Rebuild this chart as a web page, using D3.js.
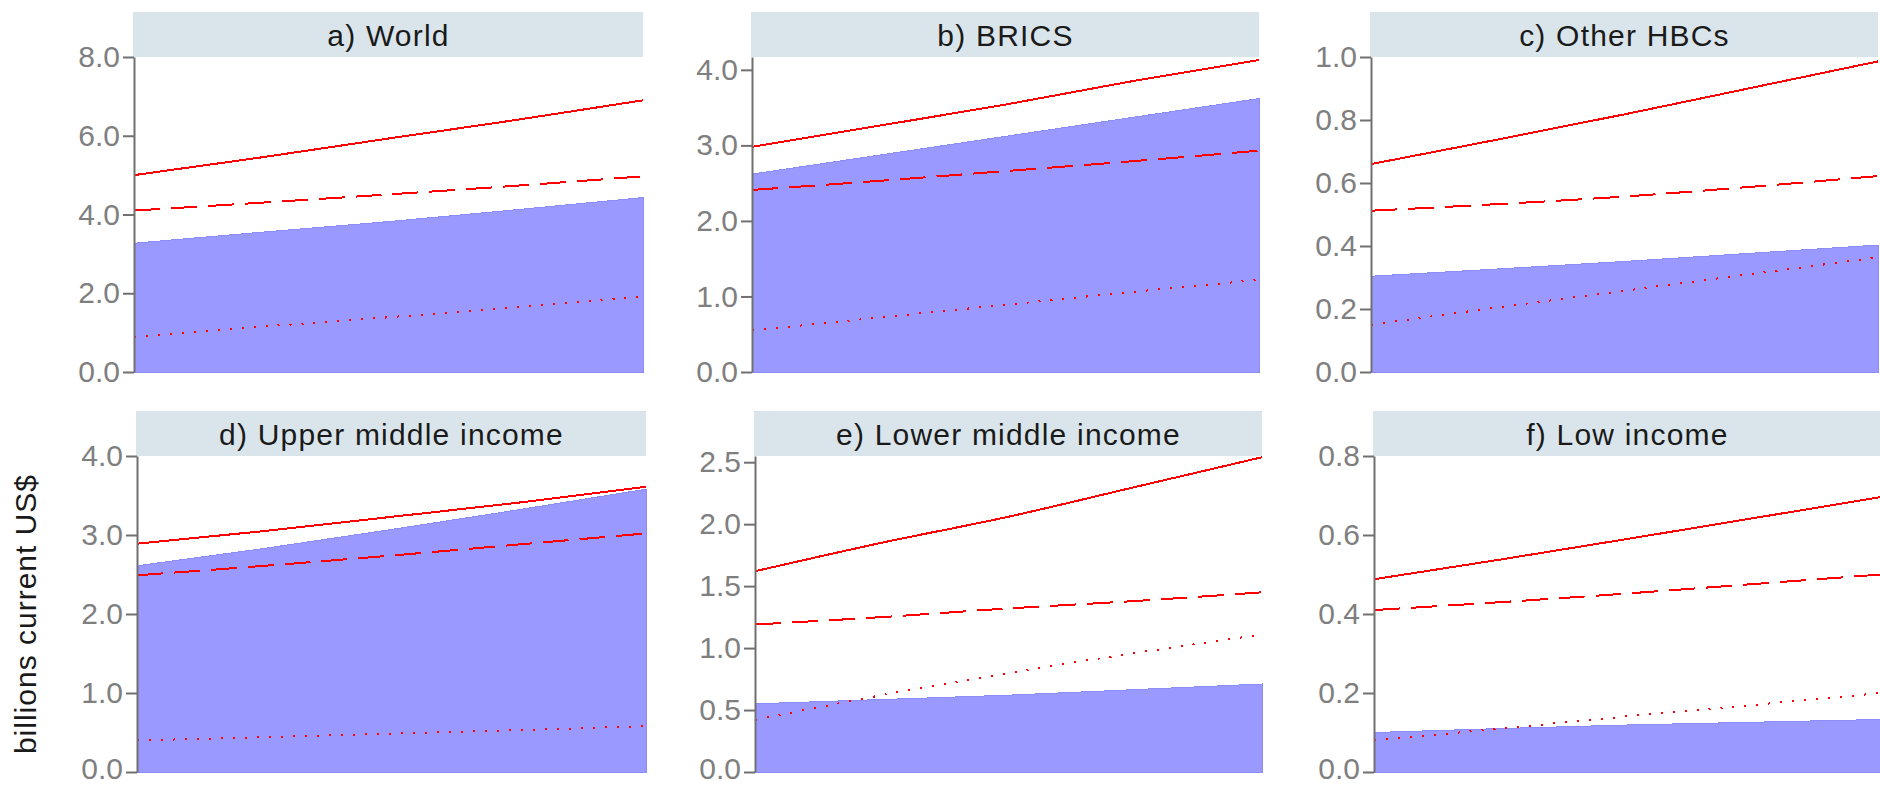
<!DOCTYPE html>
<html>
<head>
<meta charset="utf-8">
<script src="https://cdn.jsdelivr.net/npm/d3@7"></script>
<style>
  html, body { margin: 0; padding: 0; background: #fff; }
  svg { display: block; }
  text { font-family: "Liberation Sans", Arial, sans-serif; }
</style>
</head>
<body>
<svg id="chart" width="1880" height="785"></svg>
<script>
// ---- data ----------------------------------------------------------------
const years = [2011, 2012, 2013, 2014, 2015];

const panelTitles = [
  "a) World", "b) BRICS", "c) Other HBCs",
  "d) Upper middle income", "e) Lower middle income", "f) Low income"
];

const yMax = [8.0, 4.17, 1.0, 4.0, 2.55, 0.8];

const yTicks = [
  [0, 2, 4, 6, 8],
  [0, 1, 2, 3, 4],
  [0, 0.2, 0.4, 0.6, 0.8, 1.0],
  [0, 1, 2, 3, 4],
  [0, 0.5, 1.0, 1.5, 2.0, 2.5],
  [0, 0.2, 0.4, 0.6, 0.8]
];

// shaded series (one row per panel, one value per year)
const areaValues = [
  [3.27, 3.55, 3.82, 4.12, 4.43],
  [2.62, 2.87, 3.12, 3.37, 3.62],
  [0.304, 0.327, 0.351, 0.377, 0.403],
  [2.61, 2.83, 3.07, 3.32, 3.58],
  [0.55, 0.585, 0.62, 0.665, 0.71],
  [0.100, 0.110, 0.119, 0.126, 0.133]
];

// solid red line
const solidValues = [
  [5.00, 5.45, 5.93, 6.40, 6.90],
  [2.98, 3.26, 3.54, 3.85, 4.13],
  [0.660, 0.738, 0.818, 0.902, 0.986],
  [2.89, 3.05, 3.23, 3.41, 3.61],
  [1.62, 1.85, 2.06, 2.30, 2.54],
  [0.488, 0.538, 0.590, 0.643, 0.696]
];

// dashed red line
const dashedValues = [
  [4.10, 4.30, 4.51, 4.73, 4.97],
  [2.41, 2.53, 2.66, 2.79, 2.93],
  [0.512, 0.533, 0.557, 0.588, 0.622],
  [2.49, 2.61, 2.74, 2.88, 3.02],
  [1.19, 1.25, 1.32, 1.38, 1.45],
  [0.410, 0.430, 0.452, 0.476, 0.500]
];

// dotted red line
const dottedValues = [
  [0.89, 1.15, 1.39, 1.65, 1.91],
  [0.55, 0.72, 0.89, 1.06, 1.22],
  [0.150, 0.205, 0.258, 0.311, 0.364],
  [0.40, 0.44, 0.485, 0.53, 0.58],
  [0.42, 0.62, 0.80, 0.96, 1.11],
  [0.080, 0.110, 0.141, 0.170, 0.200]
];

const yAxisTitle = "billions current US$";

// ---- layout --------------------------------------------------------------
const colLeft  = [134, 752, 1371];
const colRight = [643, 1259, 1878];
const rowShift = [0, 3];
const rowPlotTop = [57, 456];
const rowPlotBottom = [372, 772];
const headerH = 45;

const svg = d3.select("#chart");

panelTitles.forEach((title, i) => {
  const row = Math.floor(i / 3), col = i % 3;
  const left = colLeft[col] + rowShift[row];
  const right = colRight[col] + rowShift[row];
  const top = rowPlotTop[row], bottom = rowPlotBottom[row];
  const w = right - left, h = bottom - top;

  const g = svg.append("g").attr("transform", `translate(${left},${top})`);

  const x = d3.scaleLinear().domain(d3.extent(years)).range([0, w]);
  const y = d3.scaleLinear().domain([0, yMax[i]]).range([h, 0]);

  // strip header
  g.append("rect")
    .attr("x", -1).attr("y", -headerH)
    .attr("width", w + 1).attr("height", headerH)
    .attr("fill", "#d9e5eb");
  g.append("text")
    .attr("x", w / 2).attr("y", -headerH / 2 + 11)
    .attr("text-anchor", "middle")
    .attr("font-size", 30)
    .attr("letter-spacing", 1.2)
    .attr("fill", "#1a1a1a")
    .text(title);

  // shaded area
  const area = d3.area()
    .curve(d3.curveMonotoneX)
    .x((d, k) => x(years[k]))
    .y0(h)
    .y1(d => y(d));
  g.append("path")
    .datum(areaValues[i])
    .attr("d", area)
    .attr("fill", "#9999ff")
    .attr("stroke", "#8c8cf6")
    .attr("stroke-width", 1)
    .attr("shape-rendering", "crispEdges");

  const line = d3.line()
    .curve(d3.curveMonotoneX)
    .x((d, k) => x(years[k]))
    .y(d => y(d));

  const series = [
    { vals: solidValues[i], dash: null },
    { vals: dashedValues[i], dash: "26,11" },
    { vals: dottedValues[i], dash: "2,10" }
  ];
  series.forEach(s => {
    g.append("path")
      .datum(s.vals)
      .attr("d", line)
      .attr("fill", "none")
      .attr("stroke", "#ff0000")
      .attr("stroke-width", 2)
      .attr("stroke-dasharray", s.dash)
      .attr("shape-rendering", "crispEdges");
  });

  // y axis
  const axis = d3.axisLeft(y)
    .tickValues(yTicks[i])
    .tickFormat(d3.format(".1f"))
    .tickSizeInner(11)
    .tickSizeOuter(0)
    .tickPadding(3);
  const ag = g.append("g").call(axis);
  ag.select(".domain").attr("stroke", "#707070").attr("stroke-width", 2);
  ag.selectAll(".tick line").attr("stroke", "#707070").attr("stroke-width", 2);
  ag.selectAll(".tick text")
    .attr("font-size", 30)
    .attr("font-family", "'Liberation Sans', Arial, sans-serif")
    .attr("fill", "#7f7f7f");
  // keep the lowest label of the bottom row inside the page edge
  if (row === 1) {
    ag.selectAll(".tick text").filter(d => d === 0).attr("dy", "0.2em");
  }
});

// shared y-axis title beside the lower row
svg.append("text")
  .attr("transform", `translate(36,${(rowPlotTop[1] + rowPlotBottom[1]) / 2}) rotate(-90)`)
  .attr("text-anchor", "middle")
  .attr("font-size", 30)
  .attr("letter-spacing", 1)
  .attr("fill", "#1a1a1a")
  .text(yAxisTitle);
</script>
</body>
</html>
